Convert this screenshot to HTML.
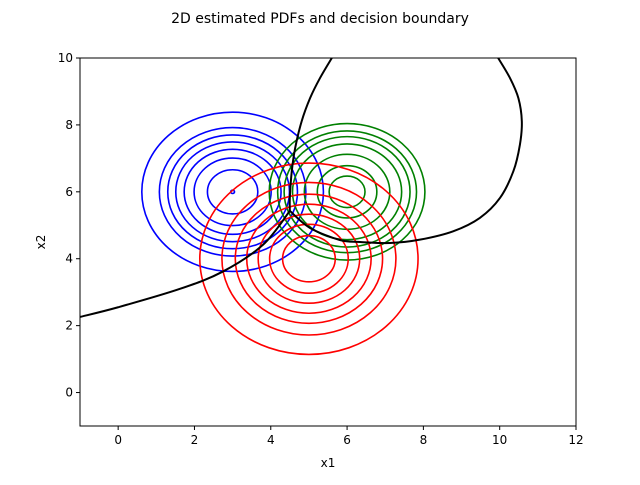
<!DOCTYPE html>
<html><head><meta charset="utf-8"><style>
body{margin:0;background:#fff;font-family:"Liberation Sans","DejaVu Sans",sans-serif}
svg text{font-family:"DejaVu Sans","Liberation Sans",sans-serif}
</style></head><body>
<svg id="chart" width="640" height="480" xmlns="http://www.w3.org/2000/svg">
<rect width="640" height="480" fill="#fff"/>
<text x="320" y="23" text-anchor="middle" font-size="14">2D estimated PDFs and decision boundary</text>
<defs><clipPath id="plotclip"><rect x="80" y="58" width="496" height="368"/></clipPath></defs>
<g id="marks" clip-path="url(#plotclip)"></g>
<rect x="80" y="58" width="496" height="368" fill="none" stroke="#000" stroke-width="1"/>
<g id="axes"></g>
<text x="328" y="467" text-anchor="middle" font-size="12">x1</text>
<text x="45" y="242" text-anchor="middle" font-size="12" transform="rotate(-90 45 242)">x2</text>
</svg>
<script>
const xTicks=[0,2,4,6,8,10,12];
const yTicks=[0,2,4,6,8,10];
const blueCenter=[3,6];
const blueRadii=[2.38,1.92,1.70,1.49,1.27,1.01,0.66,0.05];
const greenCenter=[6,6];
const greenRadii=[2.04,1.82,1.65,1.43,1.12,0.78,0.47];
const redCenter=[5,4];
const redRadii=[2.86,2.28,1.93,1.63,1.33,1.03,0.69];
const boundaryLeftX=[-1,0,1.62,2.75,3.80,4.50];
const boundaryLeftY=[2.26,2.55,3.10,3.62,4.42,5.43];
const boundaryUpX=[5.60,5.29,5.03,4.81,4.64,4.55,4.50,4.50];
const boundaryUpY=[10,9.40,8.80,8.11,7.31,6.61,5.82,5.43];
const boundaryRightX=[4.50,5.03,5.81,6.34,7.13,7.91,8.78,9.48,10.01,10.36,10.53,10.58,10.49,10.27,9.96];
const boundaryRightY=[5.43,4.92,4.56,4.50,4.47,4.57,4.82,5.22,5.82,6.62,7.41,8.11,8.80,9.40,10];
const X0=-1,X1=12,Y0=-1,Y1=10,L=80,R=576,T=58,B=426;
function sx(v){return L+(v-X0)/(X1-X0)*(R-L);}
function sy(v){return B-(v-Y0)/(Y1-Y0)*(B-T);}
const NS="http://www.w3.org/2000/svg";
const marks=document.getElementById('marks');
const axes=document.getElementById('axes');
function circles(c,radii,color,name){
  radii.forEach((r,i)=>{
    const e=document.createElementNS(NS,'ellipse');
    e.setAttribute('cx',sx(c[0]));e.setAttribute('cy',sy(c[1]));
    e.setAttribute('rx',sx(c[0]+r)-sx(c[0]));e.setAttribute('ry',sy(c[1])-sy(c[1]+r));
    e.setAttribute('fill','none');e.setAttribute('stroke',color);e.setAttribute('stroke-width','1.6');
    
    
    marks.appendChild(e);
  });
}
circles(blueCenter,blueRadii,'#0000ff','blue-contour');
circles(greenCenter,greenRadii,'#008000','green-contour');
circles(redCenter,redRadii,'#ff0000','red-contour');
function smoothPath(xs,ys){
  const p=xs.map((x,i)=>[sx(x),sy(ys[i])]);
  let d='M'+p[0][0]+','+p[0][1];
  for(let i=0;i<p.length-1;i++){
    const p0=p[Math.max(0,i-1)],p1=p[i],p2=p[i+1],p3=p[Math.min(p.length-1,i+2)];
    const c1=[p1[0]+(p2[0]-p0[0])/6,p1[1]+(p2[1]-p0[1])/6];
    const c2=[p2[0]-(p3[0]-p1[0])/6,p2[1]-(p3[1]-p1[1])/6];
    d+=' C'+c1[0]+','+c1[1]+' '+c2[0]+','+c2[1]+' '+p2[0]+','+p2[1];
  }
  return d;
}
function line(xs,ys,name){
  const p=document.createElementNS(NS,'path');
  p.setAttribute('d',smoothPath(xs,ys));
  p.setAttribute('fill','none');p.setAttribute('stroke','#000');p.setAttribute('stroke-width','2');p.setAttribute('stroke-linejoin','round');
  
  
  marks.appendChild(p);
}
line(boundaryLeftX,boundaryLeftY,'decision-boundary-left');
line(boundaryUpX,boundaryUpY,'decision-boundary-up');
line(boundaryRightX,boundaryRightY,'decision-boundary-right');
xTicks.forEach(v=>{
  const t=document.createElementNS(NS,'line');
  t.setAttribute('x1',sx(v));t.setAttribute('x2',sx(v));t.setAttribute('y1',B);t.setAttribute('y2',B+4);t.setAttribute('stroke','#000');
  
  
  axes.appendChild(t);
  const s=document.createElementNS(NS,'text');
  s.setAttribute('x',sx(v));s.setAttribute('y',B+18);s.setAttribute('text-anchor','middle');s.setAttribute('font-size','12');
  s.textContent=v;
  
  
  axes.appendChild(s);
});
yTicks.forEach(v=>{
  const t=document.createElementNS(NS,'line');
  t.setAttribute('x1',L-4);t.setAttribute('x2',L);t.setAttribute('y1',sy(v));t.setAttribute('y2',sy(v));t.setAttribute('stroke','#000');
  
  
  axes.appendChild(t);
  const s=document.createElementNS(NS,'text');
  s.setAttribute('x',L-7);s.setAttribute('y',sy(v)+4);s.setAttribute('text-anchor','end');s.setAttribute('font-size','12');
  s.textContent=v;
  
  
  axes.appendChild(s);
});
</script>
</body></html>
